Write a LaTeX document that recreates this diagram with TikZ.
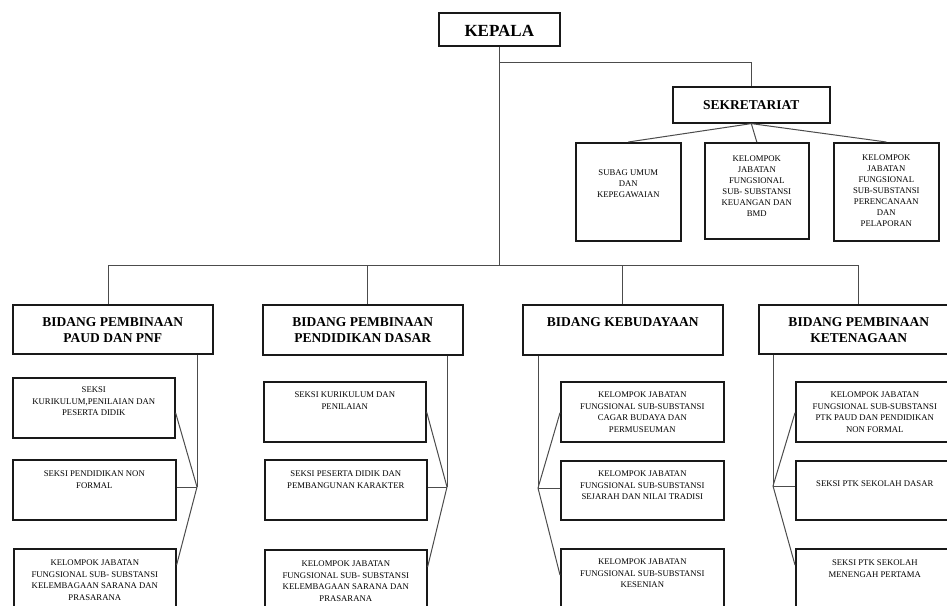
\documentclass[tikz,border=0pt]{standalone}
\usepackage{fontspec}
\setmainfont{Liberation Serif}
\usetikzlibrary{calc}
\tikzset{
  box/.style={draw=black!90, line width=1.6pt, inner sep=0pt, anchor=north west},
  conn/.style={draw=black!70, line width=1pt},
  bigtxt/.style={font=\fontsize{17}{20}\selectfont\bfseries, inner sep=0pt},
  headtxt/.style={font=\fontsize{13.5}{16}\selectfont\bfseries, align=center, inner sep=0pt, anchor=north},
  smalltxt/.style={font=\fontsize{8.7}{11.5}\selectfont, align=center, inner sep=0pt},
}
\begin{document}
\begin{tikzpicture}[x=1pt,y=-1pt]
\useasboundingbox (0,0) rectangle (947,605);
\clip (0,0) rectangle (947,605);
\fill[white] (0,0) rectangle (947,605);

% top
\node[box, minimum width=121pt, minimum height=33pt] (kepala) at (438,12) {};
\node[bigtxt] (tkepala) at ($(kepala.center)+(0,1.5)$) {KEPALA};
\node[box, minimum width=157pt, minimum height=36pt] (sek) at (672,86) {};
\node[bigtxt, font=\fontsize{13.5}{16}\selectfont\bfseries] (tsek) at (sek.center) {SEKRETARIAT};

% secretariat sub boxes
\node[box, minimum width=105pt, minimum height=98pt] (s1) at (575,142) {};
\node[box, minimum width=104pt, minimum height=96pt] (s2) at (704,142) {};
\node[box, minimum width=105pt, minimum height=98pt] (s3) at (833,142) {};
\node[smalltxt, font=\fontsize{8.7}{11}\selectfont] (ts1) at ($(s1.center)+(0,-8)$) {SUBAG UMUM\\DAN\\KEPEGAWAIAN};
\node[smalltxt, font=\fontsize{8.7}{11}\selectfont] (ts2) at ($(s2.center)+(0,-5)$) {KELOMPOK\\JABATAN\\FUNGSIONAL\\SUB- SUBSTANSI\\KEUANGAN DAN\\BMD};
\node[smalltxt, font=\fontsize{8.7}{11}\selectfont] (ts3) at ($(s3.center)+(0,-1)$) {KELOMPOK\\JABATAN\\FUNGSIONAL\\SUB-SUBSTANSI\\PERENCANAAN\\DAN\\PELAPORAN};

% bidang boxes
\node[box, minimum width=200pt, minimum height=49pt] (b1) at (12,304) {};
\node[box, minimum width=200pt, minimum height=50pt] (b2) at (262,304) {};
\node[box, minimum width=200pt, minimum height=50pt] (b3) at (522,304) {};
\node[box, minimum width=200pt, minimum height=49pt] (b4) at (758,304) {};
\node[headtxt] (tb1) at ($(b1.north)+(0,13.5)$) {BIDANG PEMBINAAN\\PAUD DAN PNF};
\node[headtxt] (tb2) at ($(b2.north)+(0,13.5)$) {BIDANG PEMBINAAN\\PENDIDIKAN DASAR};
\node[headtxt] (tb3) at ($(b3.north)+(0,13.5)$) {BIDANG KEBUDAYAAN};
\node[headtxt] (tb4) at ($(b4.north)+(0,13.5)$) {BIDANG PEMBINAAN\\KETENAGAAN};

% column 1
\node[box, minimum width=162pt, minimum height=60pt] (c1a) at (12,377) {};
\node[box, minimum width=163pt, minimum height=60pt] (c1b) at (12,459) {};
\node[box, minimum width=162pt, minimum height=90pt] (c1c) at (13,548) {};
% column 2
\node[box, minimum width=162pt, minimum height=60pt] (c2a) at (263,381) {};
\node[box, minimum width=162pt, minimum height=60pt] (c2b) at (264,459) {};
\node[box, minimum width=162pt, minimum height=90pt] (c2c) at (264,549) {};
% column 3
\node[box, minimum width=163pt, minimum height=60pt] (c3a) at (560,381) {};
\node[box, minimum width=163pt, minimum height=59pt] (c3b) at (560,460) {};
\node[box, minimum width=163pt, minimum height=90pt] (c3c) at (560,548) {};
% column 4
\node[box, minimum width=158pt, minimum height=60pt] (c4a) at (795,381) {};
\node[box, minimum width=158pt, minimum height=59pt] (c4b) at (795,460) {};
\node[box, minimum width=158pt, minimum height=90pt] (c4c) at (795,548) {};

\tikzset{ctxt/.style={smalltxt, anchor=north}}
\node[ctxt] (t1a) at ($(c1a.north)+(0,10)$) {SEKSI\\KURIKULUM,PENILAIAN DAN\\PESERTA DIDIK};
\node[ctxt] (t1b) at ($(c1b.north)+(0,12)$) {SEKSI PENDIDIKAN NON\\FORMAL};
\node[ctxt] (t1c) at ($(c1c.north)+(0,12)$) {KELOMPOK JABATAN\\FUNGSIONAL SUB- SUBSTANSI\\KELEMBAGAAN SARANA DAN\\PRASARANA};
\node[ctxt] (t2a) at ($(c2a.north)+(0,11)$) {SEKSI KURIKULUM DAN\\PENILAIAN};
\node[ctxt] (t2b) at ($(c2b.north)+(0,12)$) {SEKSI PESERTA DIDIK DAN\\PEMBANGUNAN KARAKTER};
\node[ctxt] (t2c) at ($(c2c.north)+(0,12)$) {KELOMPOK JABATAN\\FUNGSIONAL SUB- SUBSTANSI\\KELEMBAGAAN SARANA DAN\\PRASARANA};
\node[ctxt] (t3a) at ($(c3a.north)+(0,11)$) {KELOMPOK JABATAN\\FUNGSIONAL SUB-SUBSTANSI\\CAGAR BUDAYA DAN\\PERMUSEUMAN};
\node[ctxt] (t3b) at ($(c3b.north)+(0,11)$) {KELOMPOK JABATAN\\FUNGSIONAL SUB-SUBSTANSI\\SEJARAH DAN NILAI TRADISI};
\node[ctxt] (t3c) at ($(c3c.north)+(0,11)$) {KELOMPOK JABATAN\\FUNGSIONAL SUB-SUBSTANSI\\KESENIAN};
\node[ctxt] (t4a) at ($(c4a.north)+(0,11)$) {KELOMPOK JABATAN\\FUNGSIONAL SUB-SUBSTANSI\\PTK PAUD DAN PENDIDIKAN\\NON FORMAL};
\node[ctxt] (t4b) at ($(c4b.north)+(0,21)$) {SEKSI PTK SEKOLAH DASAR};
\node[ctxt] (t4c) at ($(c4c.north)+(0,12)$) {SEKSI PTK SEKOLAH\\MENENGAH PERTAMA};

% connectors: top
\coordinate (sekbus) at (0,62);
\coordinate (bus) at (0,265);
\draw[conn] (kepala.south) -- (kepala.south |- bus);
\draw[conn] (kepala.south |- sekbus) -- (sek.north |- sekbus) -- (sek.north);
\draw[conn] (sek.south) -- (s1.north);
\draw[conn] (sek.south) -- (s2.north);
\draw[conn] (sek.south) -- (s3.north);
\draw[conn] ($(b1.north)+(-4,0)$) -- ($(b1.north |- bus)+(-4,0)$) -- (b4.north |- bus) -- (b4.north);
\draw[conn] ($(b2.north)+(5,0)$) -- ($(b2.north |- bus)+(5,0)$);
\draw[conn] (b3.north) -- (b3.north |- bus);

% column hubs
\coordinate (h1) at (197,487);
\coordinate (h2) at (447,487);
\coordinate (h3) at (538,488);
\coordinate (h4) at (773,486);
\draw[conn] (h1 |- b1.south) -- (h1);
\draw[conn] (h1) -- ($(c1a.east)+(0,5)$);
\draw[conn] (h1) -- (h1 -| c1b.east);
\draw[conn] (h1) -- ($(c1c.north east)+(0,17)$);
\draw[conn] (h2 |- b2.south) -- (h2);
\draw[conn] (h2) -- (c2a.east);
\draw[conn] (h2) -- (h2 -| c2b.east);
\draw[conn] (h2) -- ($(c2c.north east)+(0,18)$);
\draw[conn] (h3 |- b3.south) -- (h3);
\draw[conn] (h3) -- ($(c3a.west)+(0,1)$);
\draw[conn] (h3) -- (h3 -| c3b.west);
\draw[conn] (h3) -- ($(c3c.north west)+(0,27)$);
\draw[conn] (h4 |- b4.south) -- (h4);
\draw[conn] (h4) -- ($(c4a.west)+(0,1)$);
\draw[conn] (h4) -- (h4 -| c4b.west);
\draw[conn] (h4) -- ($(c4c.north west)+(0,17)$);
\end{tikzpicture}
\end{document}
